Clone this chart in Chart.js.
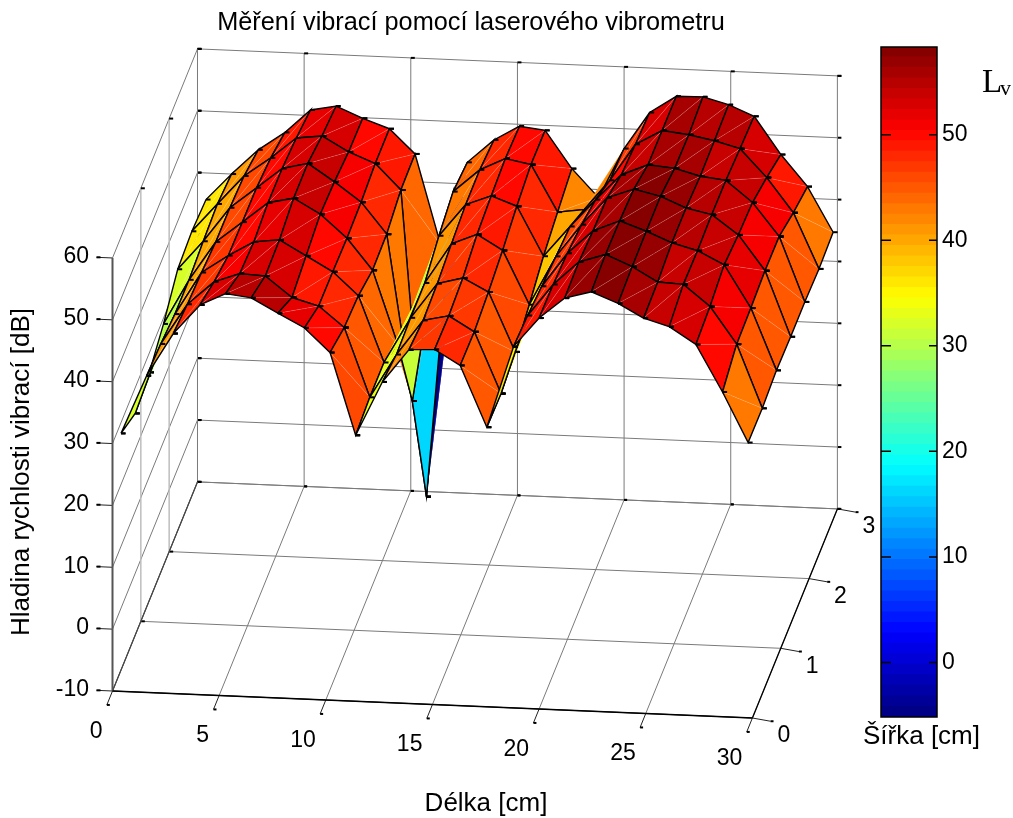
<!DOCTYPE html>
<html>
<head>
<meta charset="utf-8">
<title>Měření vibrací pomocí laserového vibrometru</title>
<script src="https://cdn.jsdelivr.net/npm/chart.js@4/dist/chart.umd.min.js"></script>
<style>
    body { margin: 0; background: #fff; }
    #wrap { position: relative; width: 1013px; height: 818px; overflow: hidden; }
    canvas { position: absolute; top: 0; }
    #surfaceChart { left: 0; }
    #colorChart { left: 860px; }
</style>
</head>
<body>
<div id="wrap">
    <canvas id="surfaceChart" width="942" height="818"></canvas>
    <canvas id="colorChart" width="153" height="818"></canvas>
</div>
<script>
// measured positions along the plate [cm]
const lengths = [0.4, 1.6, 2.85, 4.1, 5.3, 6.5, 7.75, 9, 10.2, 11.4, 12.65, 13.9, 15.1, 16.3, 17.55, 18.8, 20, 21.2, 22.45, 23.7, 24.9, 26.1, 27.35, 28.6, 29.8];
const widths = [0, 0.5, 1, 1.5, 2, 2.5, 3];

// vibration velocity level [dB], one row per length, one value per width
const levels = [
    [31.7, 29.3, 30.3, 32.5, 35.7, 36.2, 35.7],
    [41.2, 40.7, 39.9, 39.8, 40.4, 40.8, 40],
    [48.2, 47.3, 46.8, 46.1, 46, 45.5, 44.1],
    [53, 51.1, 49.7, 49.5, 49.4, 48.6, 47.1],
    [55, 52.6, 52.1, 52.8, 52.7, 52, 50.9],
    [54.5, 52.4, 52.6, 53.7, 53.7, 52.5, 51.7],
    [52.2, 49.1, 50.2, 51.3, 50.9, 50.1, 49.9],
    [50, 47.9, 47.8, 47.6, 47.8, 48.4, 48.4],
    [46.2, 44.6, 44.1, 42.6, 42.8, 44.3, 44.5],
    [33, 33.5, 33.5, 30.6, 16, -5.1, 30],
    [41.8, 40.6, 40.9, 40.9, 42.9, 44.4, 43.5],
    [47.2, 46.3, 46.6, 47.4, 48.1, 48.1, 47.3],
    [47.4, 47.2, 47.7, 49.1, 49.7, 50.1, 49.7],
    [45, 44.8, 45.6, 46.7, 48.2, 49.3, 49.2],
    [35.2, 35, 36.1, 38.1, 40.3, 41.8, 43.2],
    [48.4, 47.8, 46.9, 46.1, 45.3, 42.4, 38.7],
    [53.2, 53, 52.4, 51.4, 49.8, 47.3, 46.8],
    [56.6, 56.8, 56.2, 55.9, 54, 53.3, 52.8],
    [57.8, 58.2, 58, 57.5, 55.8, 55.7, 55.6],
    [56.1, 56.4, 56.5, 56.5, 55.4, 55.2, 55.7],
    [53.9, 54.1, 54.8, 54.8, 54.3, 54.4, 54.6],
    [52.7, 53.9, 53.7, 53.9, 53.8, 53.3, 52.9],
    [50, 50.5, 51.6, 50.8, 50.4, 48.8, 46.9],
    [42.5, 44.6, 44.8, 45.2, 45.1, 43.3, 41.9],
    [34.5, 34.4, 34.9, 34.7, 34.7, 34.4, 34.7]
];

const lengthTicks = [0, 5, 10, 15, 20, 25, 30];
const widthTicks = [0, 1, 2, 3];
const levelTicks = [-10, 0, 10, 20, 30, 40, 50, 60];
const colorTicks = [0, 10, 20, 30, 40, 50];

const titleText = 'Měření vibrací pomocí laserového vibrometru';
const lengthLabel = 'Délka [cm]';
const widthLabel = 'Šířka [cm]';
const levelLabel = 'Hladina rychlosti vibrací [dB]';

const sans = '"Liberation Sans", Arial, sans-serif';
const tickFont = '23px ' + sans;
const labelFont = '26px ' + sans;

// MATLAB-like 3D view, orthographic: figure position per data unit
const view = { ox: 112.5, oy: 691, xx: 21.33, xy: 0.9, yx: 28.33, yy: -69.7, zy: -6.186 };
function project(x, y, z) {
    return {
        x: view.ox + view.xx * x + view.yx * y,
        y: view.oy + view.xy * x + view.yy * y + view.zy * (z + 10)
    };
}

// jet colormap, 64 steps
const colorMin = -5.16;
const colorMax = 58.3;
const colorSteps = 64;
function jet(step) {
    const v = (step + 0.5) / colorSteps;
    const band = (c) => Math.round(255 * Math.max(0, Math.min(1, 1.5 - Math.abs(4 * v - c))));
    return `rgb(${band(3)},${band(2)},${band(1)})`;
}
function colorOf(level) {
    const step = Math.floor((level - colorMin) / (colorMax - colorMin) * colorSteps);
    return jet(Math.max(0, Math.min(colorSteps - 1, step)));
}

// surface faces, nearest first: the first dataset is painted last
const datasets = [];
for (let k = 0; k < widths.length - 1; k++) {
    for (let c = lengths.length - 2; c >= 0; c--) {
        const a = project(lengths[c], widths[k], levels[c][k]);
        const b = project(lengths[c + 1], widths[k], levels[c + 1][k]);
        const d = project(lengths[c + 1], widths[k + 1], levels[c + 1][k + 1]);
        const e = project(lengths[c], widths[k + 1], levels[c][k + 1]);
        datasets.push({
            faceColor: colorOf(levels[c][k]),
            data: [a, b, d, e, a],
            showLine: true,
            clip: false,
            borderColor: '#000',
            borderWidth: 1.4,
            pointStyle: 'dash',
            pointRadius: 4.5,
            pointBorderColor: '#000',
            pointBorderWidth: 2
        });
    }
}

function gridLine(from, to, color, width, dashes) {
    return {
        data: [project(...from), project(...to)],
        showLine: true,
        clip: false,
        borderColor: color,
        borderWidth: width,
        pointStyle: 'dash',
        pointRadius: dashes,
        pointBorderColor: '#000',
        pointBorderWidth: 2
    };
}

const gridColor = '#7a7a7a';
const zLow = levelTicks[0];
const zHigh = levelTicks[levelTicks.length - 1];
const xEnd = lengthTicks[lengthTicks.length - 1];
const yEnd = widthTicks[widthTicks.length - 1];

// axes first in the list so they lie over the walls
datasets.push(gridLine([0, 0, zLow], [xEnd, 0, zLow], '#000', 1.3, [0, 0]));
datasets.push(gridLine([xEnd, 0, zLow], [xEnd, yEnd, zLow], '#000', 1.3, [0, 0]));
datasets.push(gridLine([0, 0, zLow], [0, 0, zHigh], '#555', 2, [0, 0]));
datasets.push(gridLine([0, 0, zLow], [0, yEnd, zLow], '#444', 1.2, [0, 0]));

lengthTicks.forEach((x) => {
    datasets.push(gridLine([x, 0, zLow], [x, -0.2, zLow], '#222', 1, [0, 3]));
    datasets.push(gridLine([x, 0, zLow], [x, yEnd, zLow], gridColor, 1, [0, 3]));
    datasets.push(gridLine([x, yEnd, zLow], [x, yEnd, zHigh], gridColor, 1, [3, 4]));
});
widthTicks.forEach((y) => {
    datasets.push(gridLine([xEnd, y, zLow], [xEnd + 0.85, y, zLow - 0.4], '#222', 1, [0, 3]));
    datasets.push(gridLine([0, y, zLow], [xEnd, y, zLow], y === 0 ? '#000' : gridColor, 1, [y === 0 ? 0 : 4, 0]));
    if (y > 0 && y < yEnd) {
        datasets.push(gridLine([0, y, zLow], [0, y, zHigh], '#bdbdbd', 1.5, [0, 4]));
    }
});
levelTicks.forEach((z) => {
    datasets.push(gridLine([0, 0, z], [-0.75, 0, z], '#222', 1, [0, 4]));
    datasets.push(gridLine([0, 0, z], [0, yEnd, z], gridColor, 1, [0, 4]));
    datasets.push(gridLine([0, yEnd, z], [xEnd, yEnd, z], gridColor, 1, [4, 4]));
});

// fills each face as its two triangles, right before its outline is stroked
const facePlugin = {
    id: 'facePlugin',
    beforeDatasetDraw(chart, args) {
        const color = chart.data.datasets[args.index].faceColor;
        if (!color) {
            return;
        }
        const ctx = chart.ctx;
        const pts = args.meta.data;
        ctx.save();
        ctx.fillStyle = color;
        [[0, 1, 2], [0, 2, 3]].forEach((tri) => {
            ctx.beginPath();
            ctx.moveTo(pts[tri[0]].x, pts[tri[0]].y);
            ctx.lineTo(pts[tri[1]].x, pts[tri[1]].y);
            ctx.lineTo(pts[tri[2]].x, pts[tri[2]].y);
            ctx.closePath();
            ctx.fill();
        });
        // the faint seam between the triangles
        ctx.strokeStyle = 'rgba(255,255,255,0.14)';
        ctx.lineWidth = 1;
        ctx.beginPath();
        ctx.moveTo(pts[0].x, pts[0].y);
        ctx.lineTo(pts[2].x, pts[2].y);
        ctx.stroke();
        ctx.restore();
    }
};

const axisTextPlugin = {
    id: 'axisTextPlugin',
    afterDraw(chart) {
        const ctx = chart.ctx;
        const sx = chart.scales.x;
        const sy = chart.scales.y;
        const at = (p) => ({ x: sx.getPixelForValue(p.x), y: sy.getPixelForValue(p.y) });
        ctx.save();
        ctx.fillStyle = '#000';
        ctx.textBaseline = 'middle';
        ctx.font = tickFont;

        ctx.textAlign = 'right';
        lengthTicks.forEach((x) => {
            const p = at(project(x, 0, zLow));
            ctx.fillText(String(x), p.x - 10, p.y + 40.5);
        });
        levelTicks.forEach((z) => {
            const p = at(project(0, 0, z));
            ctx.fillText(String(z), p.x - 23.5, p.y - 1);
        });
        ctx.textAlign = 'left';
        widthTicks.forEach((y) => {
            const p = at(project(xEnd, y, zLow));
            ctx.fillText(String(y), p.x + 25, p.y + 18);
        });

        ctx.font = labelFont;
        ctx.textAlign = 'center';
        ctx.fillText(lengthLabel, sx.getPixelForValue(486), sy.getPixelForValue(804));
        ctx.translate(sx.getPixelForValue(22), sy.getPixelForValue(472));
        ctx.rotate(-Math.PI / 2);
        ctx.fillText(levelLabel, 0, 0);
        ctx.restore();
    }
};

// title sits above the plot area, the y scale starts right below it
const titleSize = 25.3;
const titlePadding = { top: 8, bottom: 1 };
const titleHeight = titleSize * 1.2 + titlePadding.top + titlePadding.bottom;

new Chart(document.getElementById('surfaceChart'), {
    type: 'scatter',
    data: { datasets: datasets },
    plugins: [facePlugin, axisTextPlugin],
    options: {
        responsive: false,
        animation: false,
        events: [],
        layout: { padding: 0, autoPadding: false },
        scales: {
            x: { type: 'linear', display: false, min: 0, max: 942 },
            y: { type: 'linear', display: false, min: titleHeight, max: 818, reverse: true }
        },
        plugins: {
            legend: { display: false },
            tooltip: { enabled: false },
            title: {
                display: true,
                text: titleText,
                color: '#000',
                font: { family: sans, size: titleSize, weight: 'normal', lineHeight: 1.2 },
                padding: titlePadding
            }
        }
    }
});

// colour bar: one floating bar per colormap step
const colorBars = [];
for (let s = 0; s < colorSteps; s++) {
    const lo = colorMin + (colorMax - colorMin) * s / colorSteps;
    const hi = colorMin + (colorMax - colorMin) * (s + 1) / colorSteps;
    colorBars.push({
        data: [[lo, Math.min(colorMax, hi + 0.05)]],
        backgroundColor: jet(s),
        grouped: false,
        barPercentage: 1,
        categoryPercentage: 1,
        borderWidth: 0
    });
}

const colorFramePlugin = {
    id: 'colorFramePlugin',
    afterDraw(chart) {
        const ctx = chart.ctx;
        const area = chart.chartArea;
        const scale = chart.scales.y;
        ctx.save();
        ctx.strokeStyle = '#000';
        ctx.lineWidth = 1.5;
        ctx.strokeRect(area.left, area.top, area.right - area.left, area.bottom - area.top);
        colorTicks.forEach((t) => {
            const py = scale.getPixelForValue(t);
            ctx.beginPath();
            ctx.moveTo(area.left, py);
            ctx.lineTo(area.left + 10, py);
            ctx.moveTo(area.right - 8, py);
            ctx.lineTo(area.right, py);
            ctx.stroke();
        });

        ctx.fillStyle = '#000';
        ctx.textBaseline = 'middle';
        ctx.textAlign = 'center';
        ctx.font = labelFont;
        ctx.fillText(widthLabel, 61.5, 737);
        ctx.textAlign = 'left';
        ctx.textBaseline = 'alphabetic';
        ctx.font = '33px "Liberation Serif", "Times New Roman", serif';
        ctx.fillText('L', 122, 92);
        ctx.font = '22px "Liberation Serif", "Times New Roman", serif';
        ctx.fillText('v', 140, 95);
        ctx.restore();
    }
};

new Chart(document.getElementById('colorChart'), {
    type: 'bar',
    data: { labels: ['Lv'], datasets: colorBars },
    plugins: [colorFramePlugin],
    options: {
        responsive: false,
        animation: false,
        events: [],
        layout: { padding: { left: 21, top: 47, bottom: 101, right: 0 }, autoPadding: false },
        scales: {
            x: { display: false },
            y: {
                position: 'right',
                min: colorMin,
                max: colorMax,
                grid: { display: false, drawTicks: false },
                border: { display: false },
                afterBuildTicks: (scale) => { scale.ticks = colorTicks.map((v) => ({ value: v })); },
                afterFit: (scale) => { scale.width = 76; },
                ticks: {
                    color: '#000',
                    padding: 5,
                    font: { family: sans, size: 23 }
                }
            }
        },
        plugins: {
            legend: { display: false },
            tooltip: { enabled: false }
        }
    }
});
</script>
</body>
</html>
